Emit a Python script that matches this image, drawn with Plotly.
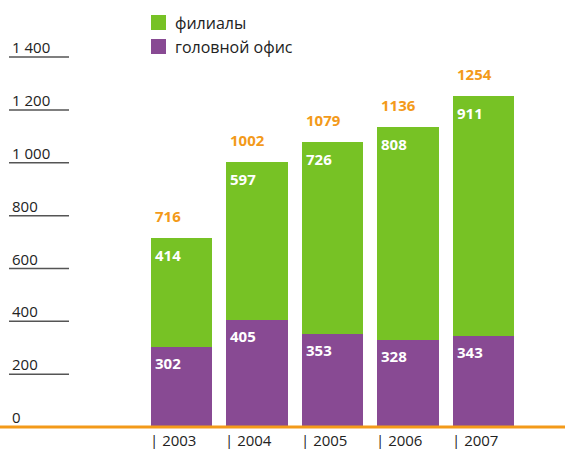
import plotly.graph_objects as go

years = ["2003", "2004", "2005", "2006", "2007"]
head_office = [302, 405, 353, 328, 343]
branches = [414, 597, 726, 808, 911]
totals = [716, 1002, 1079, 1136, 1254]
tick_values = [0, 200, 400, 600, 800, 1000, 1200, 1400]
tick_labels = ["0", "200", "400", "600", "800", "1 000", "1 200", "1 400"]
series_names = ["филиалы", "головной офис"]

GREEN = "#77C225"
PURPLE = "#884A93"
ORANGE = "#F39A1A"
FONT = "Open Sans"
BW = 0.81

xs = list(range(len(years)))
fig = go.Figure()
fig.add_trace(go.Bar(x=xs, y=head_office, marker=dict(color=PURPLE, line=dict(width=0)),
                     width=BW, name=series_names[1], showlegend=False, hoverinfo="skip"))
fig.add_trace(go.Bar(x=xs, y=branches, marker=dict(color=GREEN, line=dict(width=0)),
                     width=BW, name=series_names[0], showlegend=False, hoverinfo="skip"))

ann = []
shapes = []
for i, x in enumerate(xs):
    left = x - BW / 2
    ann.append(dict(x=left, y=head_office[i], text=str(head_office[i]), xanchor="left",
                    yanchor="top", xshift=2, yshift=-4, showarrow=False,
                    font=dict(family=FONT, size=15, color="white", weight="bold")))
    ann.append(dict(x=left, y=head_office[i] + branches[i], text=str(branches[i]), xanchor="left",
                    yanchor="top", xshift=2, yshift=-5, showarrow=False,
                    font=dict(family=FONT, size=15, color="white", weight="bold")))
    ann.append(dict(x=left, y=totals[i], text=str(totals[i]), xanchor="left",
                    yanchor="bottom", xshift=2, yshift=10, showarrow=False,
                    font=dict(family=FONT, size=15, color=ORANGE, weight="bold")))
    ann.append(dict(x=left, y=-49, text="| " + years[i], xanchor="left",
                    yanchor="middle", xshift=-3, showarrow=False,
                    font=dict(family=FONT, size=15, color="#222222")))

for v, lab in zip(tick_values, tick_labels):
    if v > 0:
        shapes.append(dict(type="line", xref="paper", yref="y", x0=9 / 565, x1=69 / 565,
                           y0=v, y1=v, line=dict(color="#555555", width=1.5)))
    ann.append(dict(xref="paper", yref="y", x=10 / 565, y=v, text=lab, xanchor="left",
                    yanchor="bottom", yshift=-2, showarrow=False,
                    font=dict(family=FONT, size=15, color="#222222")))

shapes.append(dict(type="line", xref="paper", yref="y", x0=0, x1=1, y0=0, y1=0,
                   line=dict(color=ORANGE, width=3)))

# legend
legend_colors = [GREEN, PURPLE]
for j, (nm, col) in enumerate(zip(series_names, legend_colors)):
    top = 15 + j * 24
    shapes.append(dict(type="rect", xref="paper", yref="paper",
                       x0=151 / 565, x1=166 / 565, y0=1 - (top + 15) / 449, y1=1 - top / 449,
                       fillcolor=col, line=dict(width=0)))
    ann.append(dict(xref="paper", yref="paper", x=173 / 565, y=1 - (top + 7.5) / 449,
                    text=nm, xanchor="left", yanchor="middle", showarrow=False,
                    font=dict(family=FONT, size=16, color="#222222")))

fig.update_layout(
    width=565, height=449, barmode="stack",
    margin=dict(l=0, r=0, t=0, b=0),
    plot_bgcolor="white", paper_bgcolor="white",
    xaxis=dict(range=[-2.404, 5.079], visible=False, fixedrange=True),
    yaxis=dict(range=[-83, 1616], visible=False, fixedrange=True),
    annotations=ann, shapes=shapes, showlegend=False,
)
fig.write_html("out.html", config={"displayModeBar": False},
               post_script="document.body.style.margin='0';")
